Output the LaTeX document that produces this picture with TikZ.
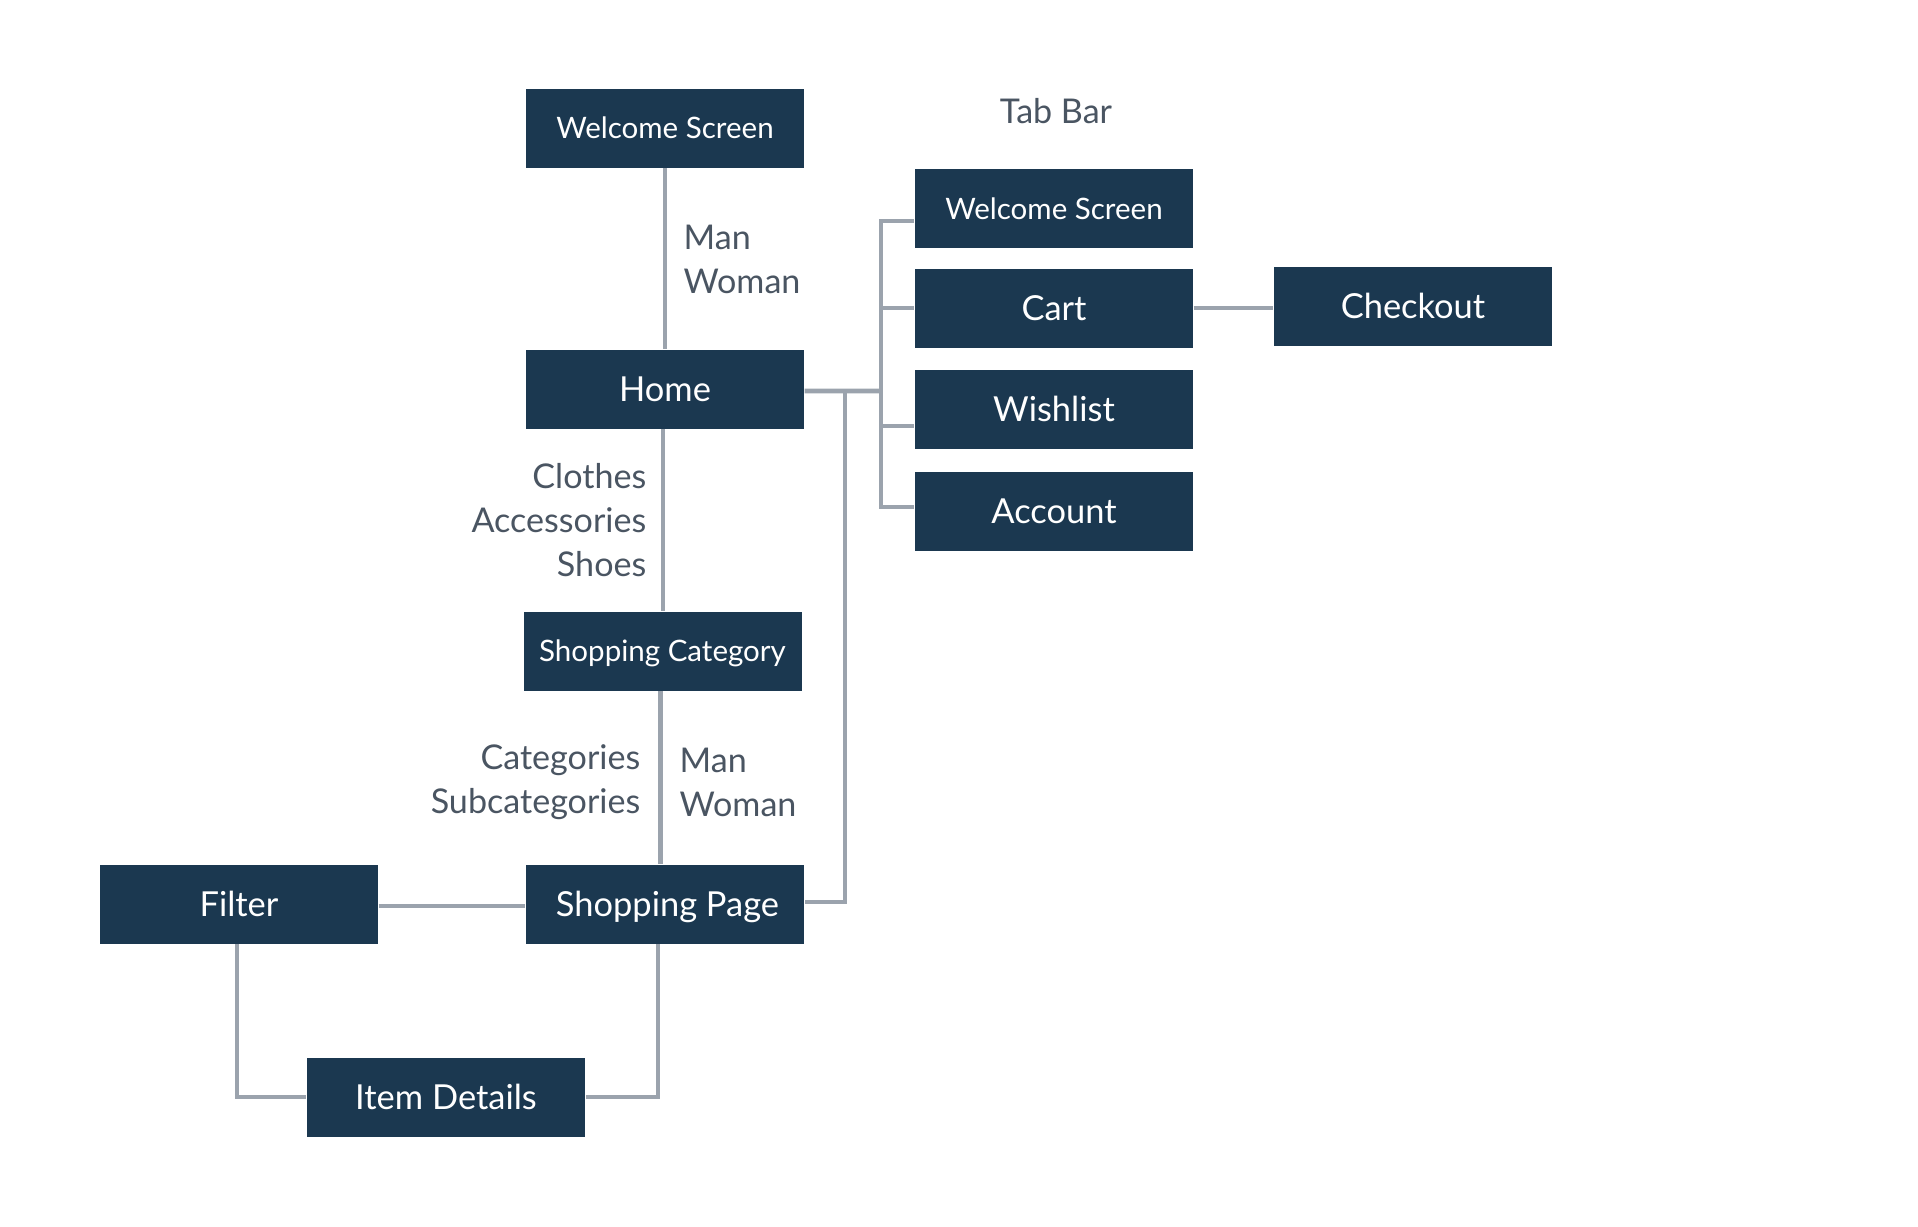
\documentclass[tikz,border=0pt]{standalone}
\usepackage{fontspec}
\setmainfont{Lato}
\usepackage{tikz}
\definecolor{navy}{HTML}{1B3850}
\definecolor{linegray}{HTML}{9BA3AD}
\definecolor{txtgray}{HTML}{4A5562}
\tikzset{
  box/.style={rectangle, fill=navy, text=white, minimum width=2.78cm, minimum height=0.79cm, inner sep=0pt, text height=1.35ex, text depth=0pt, font=\fontsize{9.8}{12}\selectfont},
  boxsm/.style={box, text height=1.2ex, font=\fontsize{8.4}{10}\selectfont},
  lbl/.style={text=txtgray, inner sep=0pt, font=\fontsize{9.7}{12.5}\selectfont},
  conn/.style={draw=linegray, line width=1.3pt}
}

\begin{document}
\begin{tikzpicture}
        \useasboundingbox (0,0) rectangle (19.18,-12.26);
        % main column
        \node (ws) [boxsm] at (6.65cm, -1.28cm) {Welcome Screen};
        \node (home) [box] at (6.65cm, -3.89cm) {Home};
        \node (cat) [boxsm] at (6.625cm, -6.51cm) {Shopping Category};
        \node (page) [box] at (6.65cm, -9.04cm) {\hspace{0.5mm}Shopping Page};
        \node (filter) [box] at (2.39cm, -9.04cm) {Filter\hspace{0.8mm}};
        \node (item) [box] at (4.46cm, -10.97cm) {Item Details};
        % tab bar
        \node (tab) [lbl] at (10.56cm, -1.11cm) {Tab Bar};
        \node (tws) [boxsm] at (10.54cm, -2.085cm) {Welcome Screen};
        \node (cart) [box] at (10.54cm, -3.08cm) {Cart};
        \node (wish) [box] at (10.54cm, -4.09cm) {Wishlist};
        \node (acct) [box] at (10.54cm, -5.11cm) {Account};
        \node (chk) [box] at (14.13cm, -3.065cm) {Checkout};
        % labels
        \node (l1) [lbl, align=left, anchor=west] at (6.83cm, -2.59cm) {Man\\Woman};
        \node (l2) [lbl, align=right, anchor=east] at (6.47cm, -5.20cm) {Clothes\\Accessories\\Shoes};
        \node (l3) [lbl, align=right, anchor=east] at (6.41cm, -7.82cm) {Categories\\Subcategories};
        \node (l4) [lbl, align=left, anchor=west] at (6.79cm, -7.82cm) {Man\\Woman};
        \coordinate (bus) at (8.81cm, -3.91cm);
        \coordinate (jn) at (8.45cm, -3.91cm);
        \draw [conn] (ws.south) -- (home.north);
        \draw [conn] ([xshift=-0.2mm]home.south) -- ([xshift=-0.2mm]home.south |- cat.north);
        \draw [conn] ([xshift=-0.2mm]cat.south) -- ([xshift=-0.2mm]cat.south |- page.north);
        \draw [conn] ([yshift=-0.2mm]home.east) -- (bus);
        \draw [conn] (bus) |- ([yshift=-1.25mm]tws.west);
        \draw [conn] (bus) |- ([yshift=0.4mm]acct.west);
        \draw [conn] (bus |- cart.west) -- (cart.west);
        \draw [conn] ([yshift=-1.7mm]bus |- wish.west) -- ([yshift=-1.7mm]wish.west);
        \draw [conn] (cart.east) -- (chk.west |- cart.east);
        \draw [conn] (jn) |- ([yshift=0.2mm]page.east);
        \draw [conn] ([yshift=-0.2mm]filter.east) -- ([yshift=-0.2mm]page.west);
        \draw [conn] ([xshift=-0.2mm]filter.south) |- (item.west);
        \draw [conn] ([xshift=-0.7mm]page.south) |- (item.east);
\end{tikzpicture}
\end{document}
